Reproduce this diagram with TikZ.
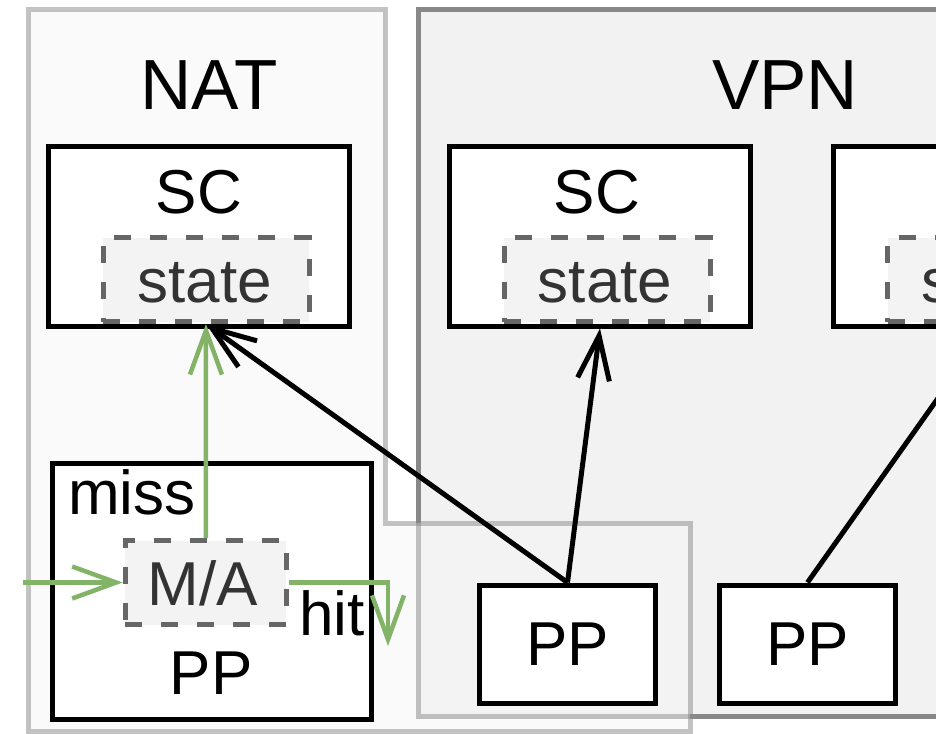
\documentclass[tikz,border=0pt]{standalone}
\usepackage{fontspec}
\setmainfont{Liberation Sans}
\usetikzlibrary{arrows.meta}

\definecolor{vpnfill}{HTML}{F2F2F2}
\definecolor{vpnline}{HTML}{888888}
\definecolor{natfill}{HTML}{F5F5F5}
\definecolor{natline}{HTML}{888888}
\definecolor{dashgray}{HTML}{666666}
\definecolor{innerfill}{HTML}{F3F3F3}
\definecolor{innertext}{HTML}{333333}
\definecolor{flowgreen}{HTML}{82B366}

\tikzset{
  vpnregion/.style={draw=vpnline, fill=vpnfill, line width=5pt},
  natregion/.style={draw=natline, fill=natfill, line width=5pt,
    fill opacity=0.5, draw opacity=0.5},
  box/.style={draw=black, fill=white, line width=5pt, inner sep=0pt},
  scbox/.style={box, minimum width=301pt, minimum height=180pt},
  ppbox/.style={box, minimum width=176pt, minimum height=118pt,
    font=\fontsize{62}{70}\selectfont},
  innerbox/.style={draw=dashgray, fill=innerfill, line width=5pt,
    dash pattern=on 17pt off 19pt, inner sep=0pt},
  statebox/.style={innerbox, minimum width=206pt, minimum height=84pt},
  lbl/.style={font=\fontsize{62}{70}\selectfont, inner sep=0pt, anchor=base},
  innerlbl/.style={lbl, text=innertext},
  title/.style={font=\fontsize{71}{80}\selectfont, inner sep=0pt, anchor=base},
  barb/.style={-{Straight Barb[length=44pt,width=32pt]}},
  gflow/.style={draw=flowgreen, line width=4.5pt, barb},
  kflow/.style={draw=black, line width=5pt, barb},
}

\begin{document}
\begin{tikzpicture}[x=1pt, y=-1pt]
\useasboundingbox (0,0) rectangle (936,733);
\clip (0,0) rectangle (936,733);

% regions
\draw[vpnregion] (418,10) rectangle (1160,716);
\draw[natregion] (28,10) -- (385,10) -- (385,523) -- (690,523)
  -- (690,731.5) -- (28,731.5) -- cycle;

\node[title] (natlabel) at (209,110) {NAT};
\node[title] (vpnlabel) at (785,110) {VPN};

% stateful components
\node[scbox] (natsc) at (199.25,236) {};
\node[lbl] (natsctext) at (199,213) {SC};
\node[statebox] (natstate) at (206,279.5) {};
\node[innerlbl] (natstatetext) at (204.5,302) {state};

\node[scbox] (vpnsc1) at (600,236) {};
\node[lbl] (vpnsc1text) at (597,213) {SC};
\node[statebox] (vpnstate1) at (607,279.5) {};
\node[innerlbl] (vpnstate1text) at (605,302) {state};

\node[scbox] (vpnsc2) at (983.5,236) {};
\node[statebox] (vpnstate2) at (990.5,279.5) {};
\node[innerlbl] (vpnstate2text) at (989,302) {state};

% packet processors
\node[box, minimum width=318.5pt, minimum height=256pt] (natpp) at (211.75,591) {};
\node[lbl] (natpptext) at (211,694) {PP};
\node[lbl] (misstext) at (132,514) {miss};
\node[innerbox, minimum width=161pt, minimum height=84pt] (ma) at (205.75,582.5) {};
\node[innerlbl] (matext) at (203,605) {M/A};
\node[lbl] (hittext) at (332,635) {hit};

\node[ppbox] (pp1) at (567.5,644) {PP};
\node[ppbox] (pp2) at (807.5,644) {PP};

% flows
\coordinate (inflow) at (23,582.5);
\coordinate (hitend) at (388,646);
\draw[gflow] (inflow) -- (ma.west);
\draw[gflow] (ma.north) -- (natstate.south);
\draw[gflow] (ma.east) -| (hitend);

\draw[kflow] (pp1.north) -- (natstate.south);
\draw[kflow] (pp1.north) -- (vpnsc1.south);
\draw[kflow] (pp2.north) -- (vpnstate2.south);
\end{tikzpicture}
\end{document}
